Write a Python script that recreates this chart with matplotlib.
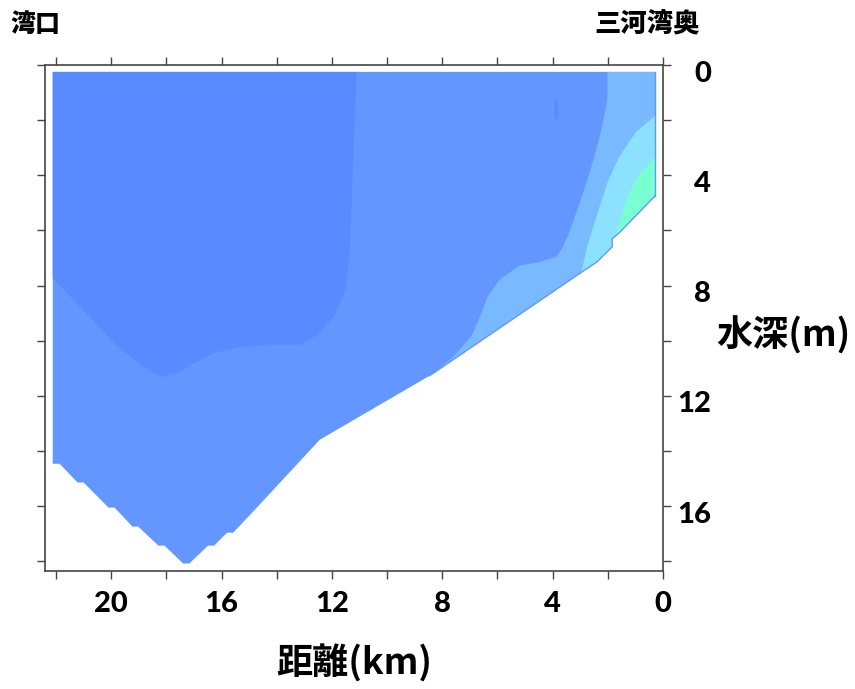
import numpy as np
import matplotlib.pyplot as plt
from matplotlib.patches import Polygon
from matplotlib.transforms import ScaledTranslation

# Section outline (distance km, depth m): surface, bottom (bathymetry)
surface_depth = 0.25
bottom_km = [22.12, 21.87, 21.22, 21.0, 20.1, 19.88, 19.23, 19.02, 18.29, 18.07,
             17.39, 17.17, 16.49, 16.27, 15.8, 15.58, 14.86, 12.44, 8.46, 2.93,
             2.39, 1.84, 1.84, 1.59, 0.29]
bottom_depth = [14.46, 14.46, 15.14, 15.14, 16.05, 16.05, 16.74, 16.74, 17.43, 17.43,
                18.08, 18.08, 17.43, 17.43, 16.96, 16.96, 16.2, 13.59, 11.27, 7.5,
                7.14, 6.59, 6.3, 6.09, 4.75]

# Contour boundaries
dark_km = [22.3, 22.13, 20.75, 19.85, 18.94, 18.22, 17.68, 16.96, 16.23, 15.33, 14.24,
           13.16, 12.51, 11.89, 11.5, 11.35, 11.28, 11.21, 11.1, 11.08]
dark_depth = [7.6, 7.72, 9.17, 10.14, 10.87, 11.3, 11.2, 10.8, 10.43, 10.22, 10.14,
              10.14, 9.78, 9.06, 8.15, 6.7, 4.89, 2.72, 0.25, 0.0]

light_km = [2.02, 2.02, 2.02, 2.24, 2.49, 2.78, 3.11, 3.4, 3.65, 3.87, 4.48, 5.21,
            5.93, 6.36, 6.65, 6.94, 7.56, 8.46, 8.8]
light_depth = [0.0, 0.25, 1.27, 2.36, 3.33, 4.28, 5.25, 6.09, 6.63, 6.96, 7.14, 7.28,
               7.79, 8.41, 9.17, 9.82, 10.54, 11.3, 11.8]

cyan_km = [-0.5, 0.25, 0.98, 1.59, 2.02, 2.42, 2.75, 2.96, 3.1]
cyan_depth = [1.5, 1.81, 2.43, 3.33, 4.28, 5.51, 6.59, 7.5, 8.0]

green_km = [-0.5, 0.29, 0.87, 1.23, 1.48, 1.63, 1.8]
green_depth = [2.9, 3.33, 3.99, 4.64, 5.36, 5.87, 6.5]

# small closed contour near 4 km
eddy_km = [3.87, 3.81, 3.8, 3.84, 3.87, 3.91, 3.94, 3.93]
eddy_depth = [1.15, 1.4, 1.7, 1.95, 2.1, 1.95, 1.7, 1.4]

colors = {'mid': '#6496ff', 'dark': '#5a8aff', 'light': '#78b9ff',
          'cyan': '#8ce1ff', 'green': '#78ffd2'}

fig = plt.figure(figsize=(8.55, 6.89), dpi=100)
ax = fig.add_axes([45 / 855, 1 - 571 / 689, 618 / 855, 506 / 689])

# whole section in the base colour
sec_x = [bottom_km[0]] + [bottom_km[-1]] + bottom_km[::-1]
sec_y = [surface_depth, surface_depth] + bottom_depth[::-1]
section = Polygon(np.column_stack([sec_x, sec_y]), closed=True, transform=ax.transData)
ax.fill(sec_x, sec_y, color=colors['mid'], lw=0)


def zone(xs, ys, color):
    for p in ax.fill(xs, ys, color=color, lw=0):
        p.set_clip_path(section)


zone(dark_km + [22.3], dark_depth + [0.0], colors['dark'])
zone(light_km + [-0.5, -0.5], light_depth + [11.8, 0.0], colors['light'])
zone(cyan_km + [-0.5], cyan_depth + [8.0], colors['cyan'])
zone(green_km + [-0.5], green_depth + [6.5], colors['green'])
zone(eddy_km, eddy_depth, colors['dark'])

# thin edge along the shallow bottom
ax.plot(bottom_km[18:], bottom_depth[18:], color=colors['mid'], lw=1)
ax.plot([bottom_km[-1]] * 2, [surface_depth, bottom_depth[-1]], color=colors['mid'], lw=1)

ax.set_xlim(22.4, 0)
ax.set_ylim(18.35, 0)

xt = np.arange(0, 23, 2)
ax.set_xticks(xt)
ax.set_xticklabels([str(v) if v % 4 == 0 else '' for v in xt])
yt = np.arange(0, 19, 2)
ax.set_yticks(yt)
ax.set_yticklabels([str(v) if v % 4 == 0 else '' for v in yt])

tick_font = dict(family=['Lato', 'DejaVu Sans'], weight='black', size=21)
ax.tick_params(axis='x', top=True, bottom=True, labeltop=False, direction='out',
               length=5.5, width=1, pad=9, color='#444444')
ax.tick_params(axis='y', left=True, right=True, labelleft=False, labelright=True,
               direction='out', length=5.5, width=1, pad=29, color='#444444')
shift = ScaledTranslation(0, -0.06, fig.dpi_scale_trans)
for lab in ax.get_xticklabels():
    lab.set_fontproperties(tick_font)
for lab in ax.get_yticklabels():
    lab.set_fontproperties(tick_font)
    lab.set_horizontalalignment('right')
    lab.set_transform(lab.get_transform() + shift)
for s in ax.spines.values():
    s.set_color('#444444')
    s.set_linewidth(1.2)

cjk = ['Noto Sans CJK JP', 'DejaVu Sans']
ax.set_xlabel('距離(km)', family=cjk, weight='bold', size=26, labelpad=20)
ax.yaxis.set_label_position('right')
ax.set_ylabel('水深(m)', family=cjk, weight='bold', size=26, rotation=0,
              ha='left', va='center')
ax.yaxis.set_label_coords(1.087, 0.466)

fig.text(0.012, 0.965, '湾口', family=cjk, weight='black', size=18, va='center')
fig.text(0.819, 0.965, '三河湾奥', family=cjk, weight='black', size=19, va='center', ha='right')

fig.savefig('out.png', dpi=100)
plt.close(fig)
